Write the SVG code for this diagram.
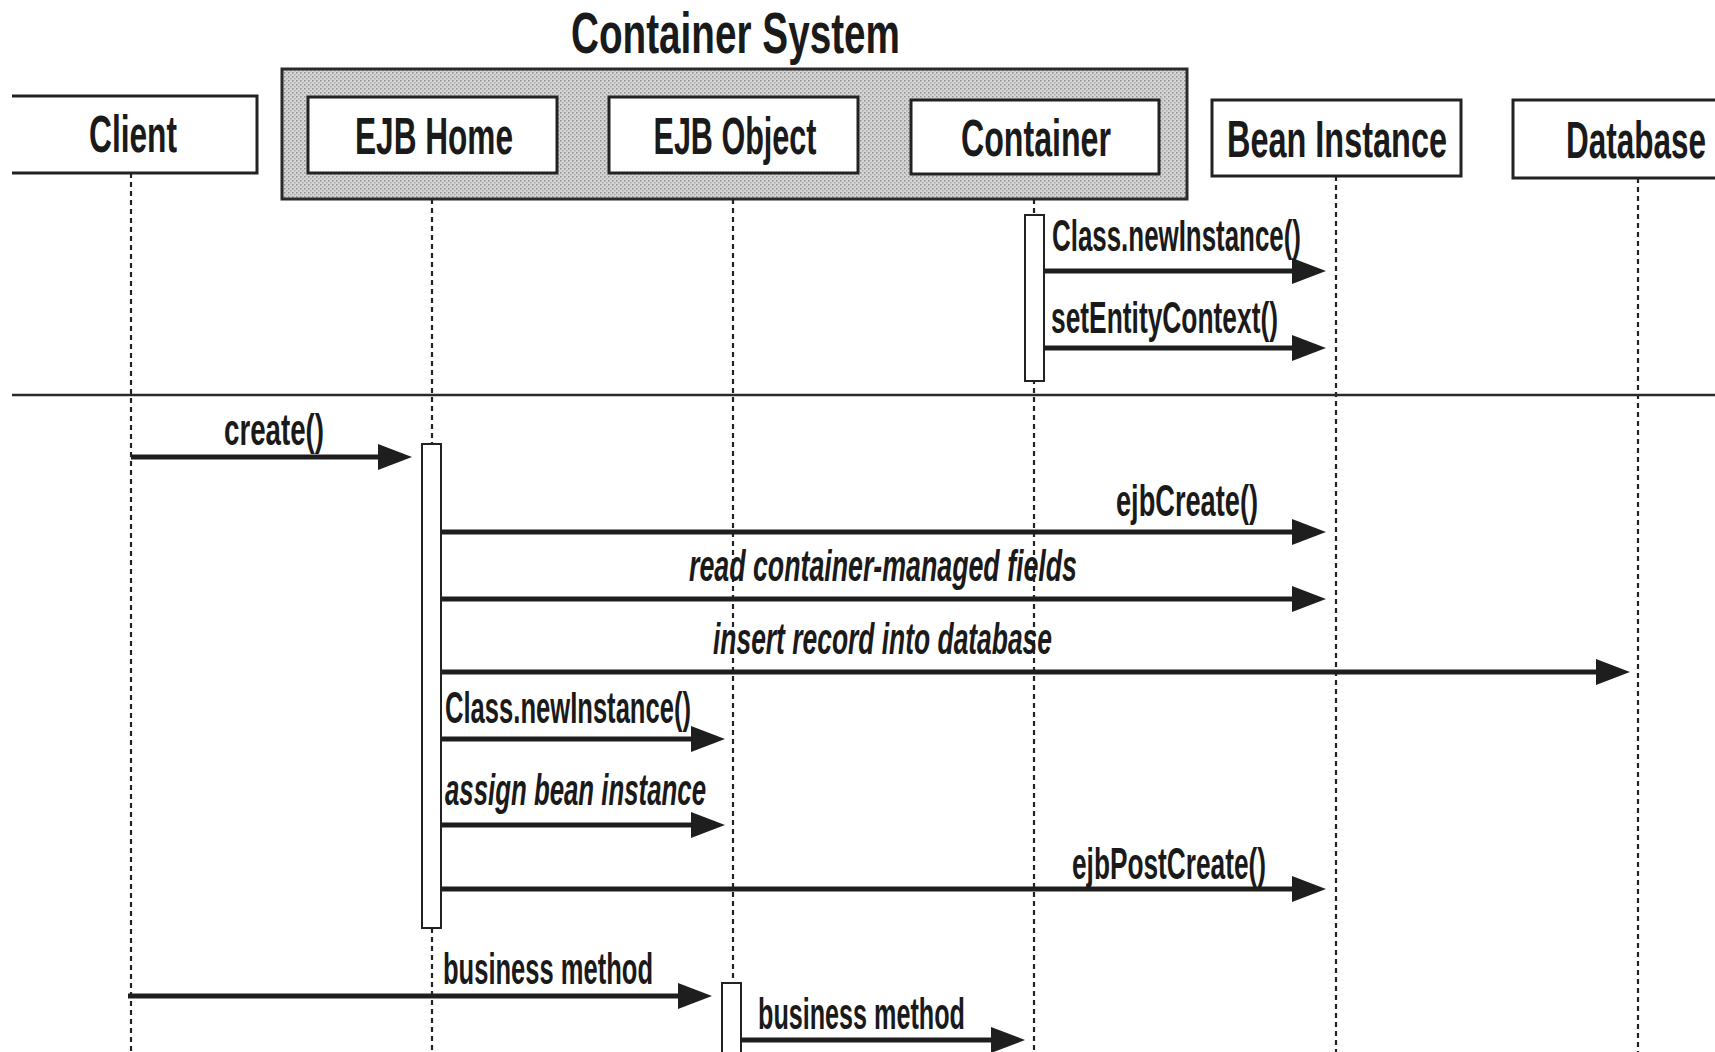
<svg xmlns="http://www.w3.org/2000/svg" width="1715" height="1052" viewBox="0 0 1715 1052">
  <defs>
    <pattern id="stipple" width="4" height="4" patternUnits="userSpaceOnUse">
      <rect width="4" height="4" fill="#d6d6d6"/>
      <rect x="0" y="0" width="1.5" height="1.5" fill="#8e8e8e"/>
      <rect x="2" y="2" width="1.5" height="1.5" fill="#a8a8a8"/>
    </pattern>
    <marker id="arrow" viewBox="0 0 34 26" refX="22" refY="13" markerWidth="34" markerHeight="26" markerUnits="userSpaceOnUse" orient="auto">
      <path d="M0,0 L34,13 L0,26 Z" fill="#1e1e1e"/>
    </marker>
    <style>
      .box { fill: #ffffff; stroke: #222222; stroke-width: 3; }
      .group { fill: url(#stipple); stroke: #2a2a2a; stroke-width: 3; }
      .act { fill: #ffffff; stroke: #222222; stroke-width: 2; }
      .life { stroke: #222222; stroke-width: 2.2; stroke-dasharray: 5 4; fill: none; }
      .sep { stroke: #2a2a2a; stroke-width: 2.5; }
      .msg { stroke: #1e1e1e; stroke-width: 5; fill: none; marker-end: url(#arrow); }
      text { font-family: "Liberation Sans Narrow", "Liberation Sans", Arial, sans-serif; font-weight: bold; fill: #1a1a1a; }
      .title { font-size: 58px; }
      .node { font-size: 52px; text-anchor: middle; }
      .lbl { font-size: 44px; }
      .it { font-style: italic; }
    </style>
  </defs>
  <rect width="1715" height="1052" fill="#ffffff"/>

  <text class="title" x="571" y="53" textLength="329" lengthAdjust="spacingAndGlyphs">Container System</text>

  <g id="container-system">
    <rect class="group" x="282" y="69" width="905" height="130"/>
  </g>

  <g id="lifelines">
    <line class="life" x1="131" y1="173" x2="131" y2="1052"/>
    <line class="life" x1="432" y1="199" x2="432" y2="1052"/>
    <line class="life" x1="733" y1="199" x2="733" y2="1052"/>
    <line class="life" x1="1034" y1="199" x2="1034" y2="1052"/>
    <line class="life" x1="1336" y1="176" x2="1336" y2="1052"/>
    <line class="life" x1="1638" y1="178" x2="1638" y2="1052"/>
  </g>

  <line class="sep" x1="12" y1="395" x2="1715" y2="395"/>

  <g id="node-client">
    <path class="box" d="M12,96 H257 V173 H12"/>
    <text class="node" x="133" y="152" textLength="88" lengthAdjust="spacingAndGlyphs">Client</text>
  </g>
  <g id="node-ejbhome">
    <rect class="box" x="308" y="97" width="249" height="76"/>
    <text class="node" x="434" y="154" textLength="158" lengthAdjust="spacingAndGlyphs">EJB Home</text>
  </g>
  <g id="node-ejbobject">
    <rect class="box" x="609" y="97" width="249" height="76"/>
    <text class="node" x="735" y="154" textLength="163" lengthAdjust="spacingAndGlyphs">EJB Object</text>
  </g>
  <g id="node-container">
    <rect class="box" x="911" y="100" width="248" height="74"/>
    <text class="node" x="1036" y="156" textLength="150" lengthAdjust="spacingAndGlyphs">Container</text>
  </g>
  <g id="node-bean">
    <rect class="box" x="1212" y="100" width="249" height="76"/>
    <text class="node" x="1337" y="157" textLength="220" lengthAdjust="spacingAndGlyphs">Bean Instance</text>
  </g>
  <g id="node-database">
    <path class="box" d="M1716,100 H1513 V178 H1716"/>
    <text class="node" x="1636" y="158" textLength="140" lengthAdjust="spacingAndGlyphs">Database</text>
  </g>

  <g id="activations">
    <rect class="act" x="1025" y="215" width="19" height="166"/>
    <rect class="act" x="422" y="444" width="19" height="484"/>
    <rect class="act" x="722" y="983" width="19" height="80"/>
  </g>

  <g id="connectors">
    <line class="msg" x1="1045" y1="271" x2="1314" y2="271"/>
    <line class="msg" x1="1045" y1="348" x2="1314" y2="348"/>
    <line class="msg" x1="131" y1="457" x2="400" y2="457"/>
    <line class="msg" x1="442" y1="532" x2="1314" y2="532"/>
    <line class="msg" x1="442" y1="599" x2="1314" y2="599"/>
    <line class="msg" x1="442" y1="672" x2="1618" y2="672"/>
    <line class="msg" x1="442" y1="739" x2="713" y2="739"/>
    <line class="msg" x1="442" y1="825" x2="713" y2="825"/>
    <line class="msg" x1="442" y1="889" x2="1314" y2="889"/>
    <line class="msg" x1="128" y1="996" x2="700" y2="996"/>
    <line class="msg" x1="742" y1="1040" x2="1013" y2="1040"/>
  </g>

  <g id="labels">
    <text class="lbl" x="1052" y="251" textLength="249" lengthAdjust="spacingAndGlyphs">Class.newInstance()</text>
    <text class="lbl" x="1051" y="333" textLength="227" lengthAdjust="spacingAndGlyphs">setEntityContext()</text>
    <text class="lbl" x="224" y="445" textLength="100" lengthAdjust="spacingAndGlyphs">create()</text>
    <text class="lbl" x="1116" y="516" textLength="142" lengthAdjust="spacingAndGlyphs">ejbCreate()</text>
    <text class="lbl it" x="689" y="581" textLength="388" lengthAdjust="spacingAndGlyphs">read container-managed fields</text>
    <text class="lbl it" x="713" y="654" textLength="339" lengthAdjust="spacingAndGlyphs">insert record into database</text>
    <text class="lbl" x="445" y="723" textLength="246" lengthAdjust="spacingAndGlyphs">Class.newInstance()</text>
    <text class="lbl it" x="445" y="805" textLength="261" lengthAdjust="spacingAndGlyphs">assign bean instance</text>
    <text class="lbl" x="1072" y="879" textLength="194" lengthAdjust="spacingAndGlyphs">ejbPostCreate()</text>
    <text class="lbl" x="443" y="984" textLength="210" lengthAdjust="spacingAndGlyphs">business method</text>
    <text class="lbl" x="758" y="1029" textLength="207" lengthAdjust="spacingAndGlyphs">business method</text>
  </g>
</svg>
